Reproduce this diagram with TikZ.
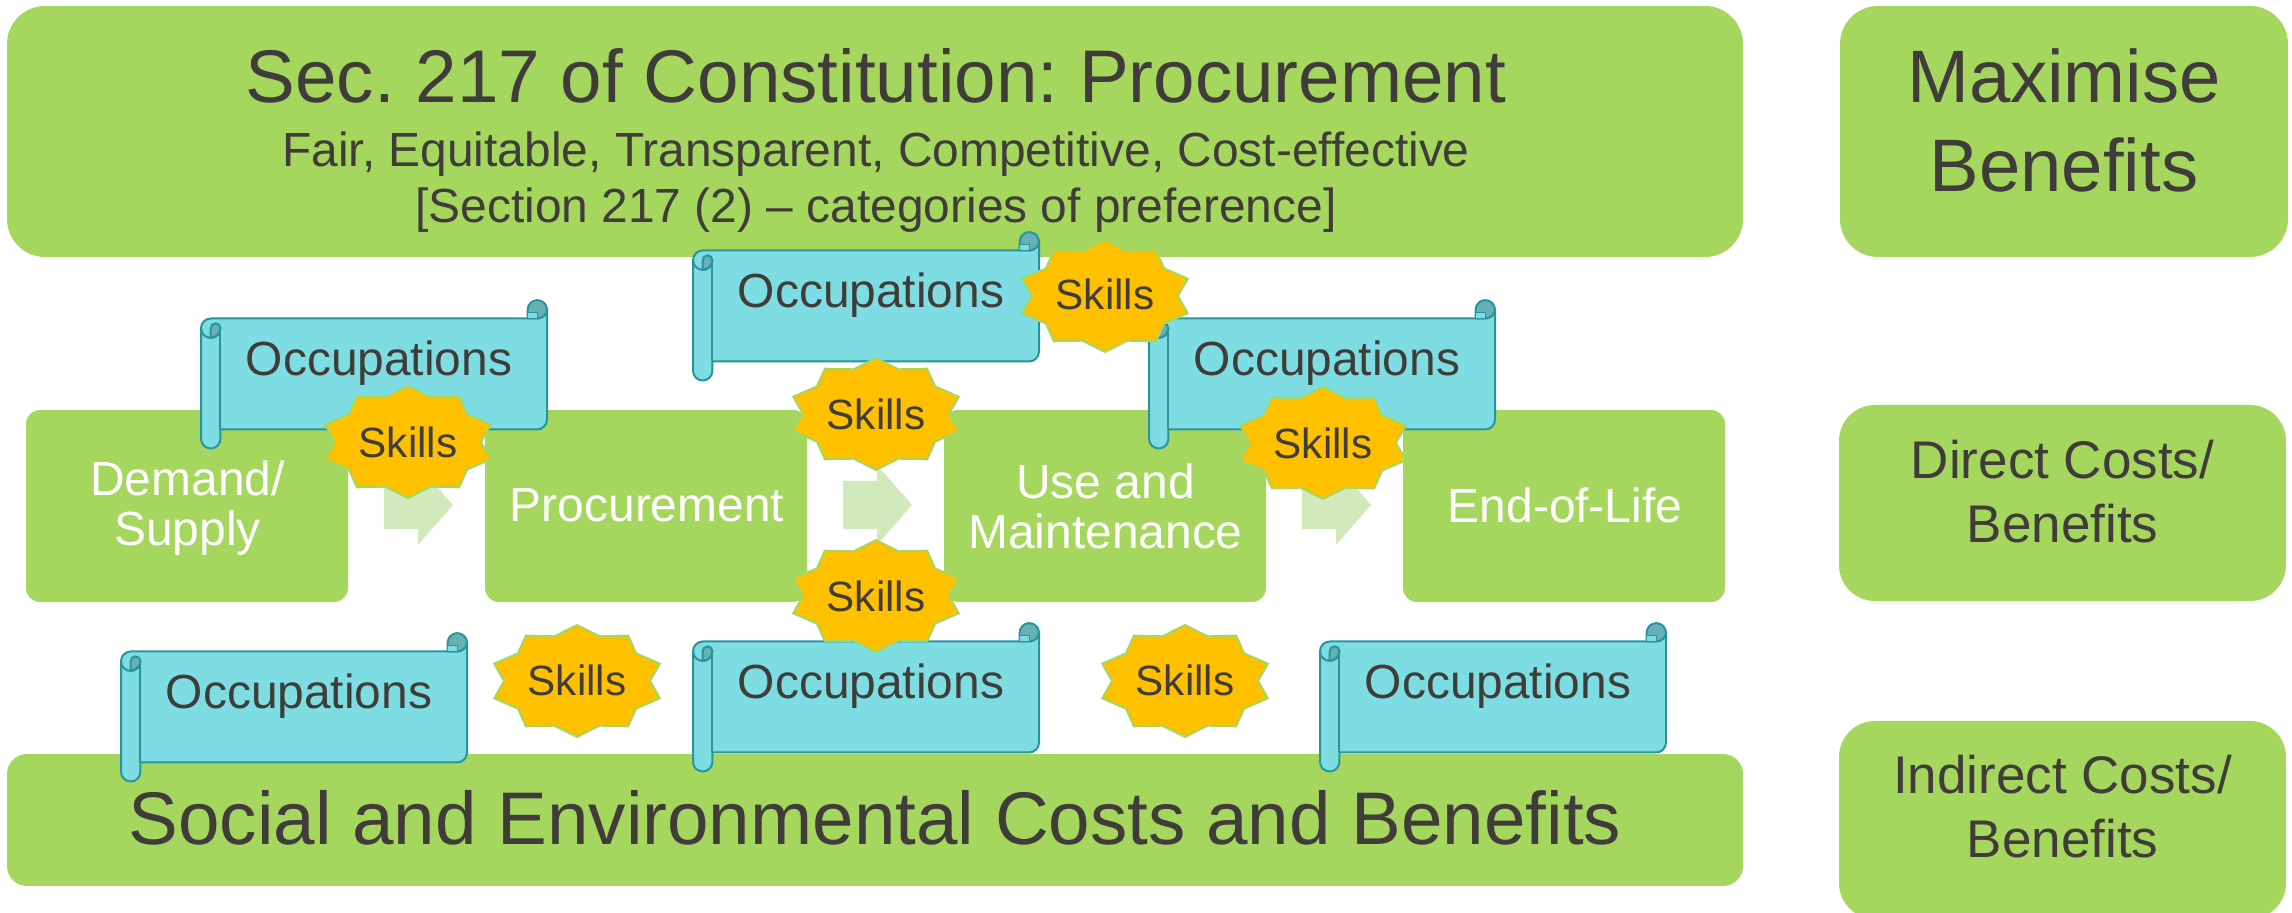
\documentclass[tikz,border=0pt]{standalone}
\usepackage{fontspec}
\setmainfont{Liberation Sans}
\frenchspacing
\definecolor{boxgreen}{HTML}{A5D75F}
\definecolor{arrowgreen}{HTML}{D2E9BB}
\definecolor{scrollfill}{HTML}{7DDDE3}
\definecolor{scrolldark}{HTML}{65B1B6}
\definecolor{scrollline}{HTML}{2A949C}
\definecolor{starfill}{HTML}{FFC000}
\definecolor{inktext}{HTML}{403C3A}
\tikzset{
  greenbox/.style={fill=boxgreen,draw=none,inner sep=0pt,text=inktext,align=center},
  stagebox/.style={greenbox,rounded corners=14pt,minimum width=322pt,minimum height=192pt},
  sidebox/.style={greenbox,rounded corners=36pt,minimum width=447pt},
  stagetext/.style={inner sep=0pt,align=center,text=white,font=\fontsize{47.9}{50}\selectfont},
  sidetext/.style={inner sep=0pt,align=center,text=inktext,font=\fontsize{53}{64}\selectfont},
  bigtext/.style={anchor=base,text=inktext,font=\fontsize{74.6}{89}\selectfont,inner sep=0pt},
  midtext/.style={anchor=base,text=inktext,font=\fontsize{47.9}{57}\selectfont,inner sep=0pt},
  flowarrow/.style={fill=arrowgreen,draw=none},
  scrollshape/.style={fill=scrollfill,draw=scrollline,line width=2pt,line join=round},
  scrollcurl/.style={fill=scrolldark,draw=scrollline,line width=2pt,line join=round},
  starshape/.style={fill=starfill,draw=boxgreen,line width=2pt,line join=miter},
}
\newcommand{\occscroll}[3]{%
  \begin{scope}[shift={(#2,#3)}]
    \draw[scrollshape] (0,-9.7) arc (180:90:9.7) -- (336.3,0) arc (270:360:9.7) -- (346,-101) arc (0:-90:10) -- (19.4,-111) -- (19.4,-120.3) arc (0:-180:9.7) -- cycle;
    \draw[scrollcurl] (346,8.7) arc (0:180:9.7) -- (326.6,0) -- (336.3,0) arc (270:360:9.7) -- cycle;
    \draw[scrollshape,line width=1.5pt] (326.6,0) -- (326.6,6) -- (336.3,6) -- (336.3,0);
    \draw[scrollline,line width=2pt] (19.4,-9.7) -- (19.4,-111);
    \draw[scrollcurl] (19.4,-9.7) arc (0:180:4.85) -- (9.7,-19.4) arc (270:360:9.7) -- cycle;
    \draw[scrollline,line width=2pt] (0,-9.7) arc (180:360:9.7);
    \node[midtext] (#1) at (178,-57) {Occupations};
  \end{scope}}
\newcommand{\skillstar}[4][-15.5]{%
  \begin{scope}[shift={(#3,#4)}]
    \draw[starshape] (90:87 and 56) -- (72:73 and 47) -- (54:87 and 56) -- (36:73 and 47) -- (18:87 and 56) -- (0:73 and 47) -- (-18:87 and 56) -- (-36:73 and 47) -- (-54:87 and 56) -- (-72:73 and 47) -- (-90:87 and 56) -- (-108:73 and 47) -- (-126:87 and 56) -- (-144:73 and 47) -- (-162:87 and 56) -- (180:73 and 47) -- (162:87 and 56) -- (144:73 and 47) -- (126:87 and 56) -- (108:73 and 47) -- cycle;
    \node[anchor=base,inner sep=0pt,text=inktext,font=\fontsize{42.3}{50}\selectfont] (#2) at (0,#1) {Skills};
  \end{scope}}
\newcommand{\flowarrowat}[1]{%
  \fill[flowarrow,shift={(#1,0)}] (384,432) -- (418,432) -- (418,448) -- (453,408) -- (418,368) -- (418,384) -- (384,384) -- cycle;}
\begin{document}
\begin{tikzpicture}[x=1pt,y=1pt]
\useasboundingbox (0,0) rectangle (2292,913);
\clip (0,0) rectangle (2292,913);
% top and bottom bands
\node[greenbox,rounded corners=38pt,minimum width=1736pt,minimum height=251pt] (top) at (875,781.5) {};
\node[bigtext] (toptitle) at (876,810) {Sec. 217 of Constitution: Procurement};
\node[midtext] (topline) at (876,746) {Fair, Equitable, Transparent, Competitive, Cost-effective};
\node[midtext] (topsection) at (876,690) {[Section 217 (2) – categories of preference]};
\node[greenbox,rounded corners=20pt,minimum width=1736pt,minimum height=132pt] (social) at (875,93) {};
\node[bigtext] (socialtext) at (875,68) {Social and Environmental Costs and Benefits};
% side boxes
\node[sidebox,rounded corners=38pt,minimum width=448pt,minimum height=251pt] (maxim) at (2064,781.5) {};
\node[sidetext,font=\fontsize{74.3}{89.5}\selectfont] (maximtext) at (2064,792.5) {Maximise\\Benefits};
\node[sidebox,minimum height=196pt] (direct) at (2062.5,410) {};
\node[sidetext] (directtext) at (2062.5,421.5) {Direct Costs/\\Benefits};
\node[sidebox,minimum height=198pt] (indirect) at (2062.5,93) {};
\node[sidetext] (indirecttext) at (2062.5,106) {Indirect Costs/\\Benefits};
% stages
\node[stagebox] (demand) at (187,407) {};
\node[stagetext] (demandtext) at (187.5,404.5) {Demand/\\Supply};
\node[stagebox] (procure) at (646,407) {};
\node[stagetext] (procuretext) at (647,408) {Procurement};
\node[stagebox] (use) at (1105,407) {};
\node[stagetext] (usetext) at (1105.5,407) {Use and\\Maintenance};
\node[stagebox] (end) at (1564,407) {};
\node[stagetext] (endtext) at (1565,408) {End-of-Life};
% arrows
\flowarrowat{0}
\flowarrowat{459}
\flowarrowat{918}
% scrolls
\occscroll{occa}{693}{662.5}
\occscroll{occb}{201}{594.5}
\occscroll{occc}{1149}{594.5}
\occscroll{occd}{121}{261.5}
\occscroll{occe}{693}{271.5}
\occscroll{occf}{1320}{271.5}
% stars
\skillstar[-14]{ska}{1105}{617}
\skillstar{skb}{408}{471}
\skillstar{skc}{1323}{470}
\skillstar{skd}{876}{499}
\skillstar{ske}{876}{317}
\skillstar[-15]{skf}{577}{232}
\skillstar[-15]{skg}{1185}{232}
\end{tikzpicture}
\end{document}
